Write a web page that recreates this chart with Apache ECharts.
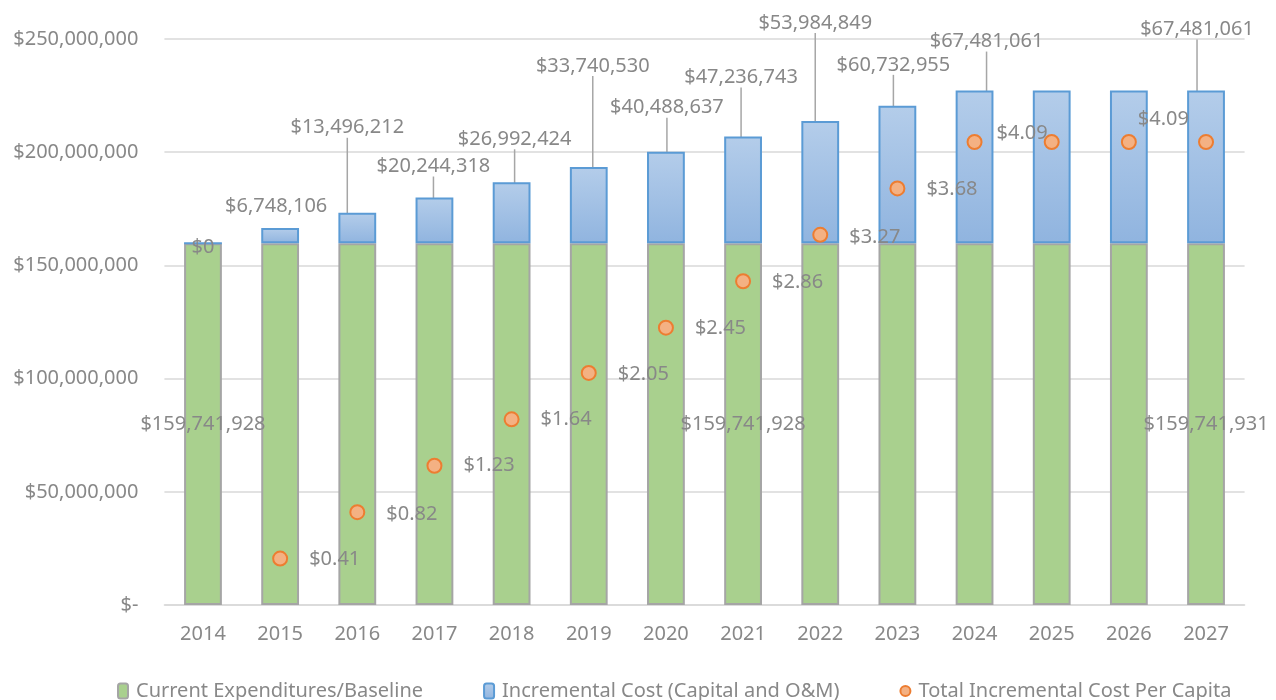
<!DOCTYPE html>
<html>
<head>
<meta charset="utf-8">
<title>Expenditures and Incremental Cost</title>
<script src="https://cdn.jsdelivr.net/npm/echarts@6/dist/echarts.min.js"></script>
<style>
  html, body { margin: 0; padding: 0; background: #ffffff; }
  #chart { width: 1276px; height: 700px; }
</style>
</head>
<body>
<div id="chart"></div>
<script>
// Chart data
const years = ['2014', '2015', '2016', '2017', '2018', '2019', '2020', '2021', '2022', '2023', '2024', '2025', '2026', '2027'];
const baseline = [159741928, 159741928, 159741928, 159741928, 159741928, 159741928, 159741928,
                  159741928, 159741928, 159741928, 159741928, 159741928, 159741928, 159741931];
const incremental = [0, 6748106, 13496212, 20244318, 26992424, 33740530, 40488637,
                     47236743, 53984849, 60732955, 67481061, 67481061, 67481061, 67481061];
const perCapita = [null, 0.41, 0.82, 1.23, 1.64, 2.05, 2.45, 2.86, 3.27, 3.68, 4.09, 4.09, 4.09, 4.09];

// Which data labels are printed
const baselineLabelShown    = [true, false, false, false, false, false, false, true, false, false, false, false, false, true];
const incrementalLabelShown = [true, true, true, true, true, true, true, true, true, true, true, false, false, true];
const perCapitaLabelShown   = [false, true, true, true, true, true, true, true, true, true, true, false, true, false];

const seriesNames = ['Current Expenditures/Baseline', 'Incremental Cost (Capital and O&M)', 'Total Incremental Cost Per Capita'];

// Label nudges (pixels) used to keep callouts apart
const incLabelShift = [[0, 20], [-4, -7], [-10, -70], [-1, -16], [3, -28], [4, -86], [1, -29],
                       [-2, -44], [-5, -83], [-4, -26], [12, -34], [0, 0], [0, 0], [-9, -46]];
const pcLabelShift = [[0, 0], [0, 1], [0, 2], [0, 0], [0, 0], [0, 1], [0, 1],
                      [0, 1], [0, 2], [0, 1], [-7, -9], [0, 0], [-20, -23], [0, 0]];

const textGray = '#888888';
const fontFamily = '"Noto Sans", "Open Sans", sans-serif';

function money(v) {
  return '$' + Math.round(v).toLocaleString('en-US');
}

const chart = echarts.init(document.getElementById('chart'), null, { renderer: 'canvas' });

const blueFill = new echarts.graphic.LinearGradient(0, 0, 0, 1, [
  { offset: 0, color: '#b4cdea' },
  { offset: 1, color: '#90b4df' }
]);

chart.setOption({
  animation: false,
  backgroundColor: '#ffffff',
  textStyle: { fontFamily: fontFamily },
  grid: { left: 164.4, right: 31.4, top: 39, bottom: 95, containLabel: false },
  legend: {
    left: 112,
    top: 676,
    itemWidth: 10,
    itemHeight: 15,
    itemGap: 60,
    textStyle: { color: textGray, fontSize: 20, fontFamily: fontFamily, padding: [0, 0, 0, 3] },
    data: seriesNames
  },
  xAxis: {
    type: 'category',
    data: years,
    axisLine: { lineStyle: { color: '#d9d9d9', width: 1.5 } },
    axisTick: { show: false },
    axisLabel: { color: textGray, fontSize: 20, margin: 19 }
  },
  yAxis: [
    {
      type: 'value',
      min: 0,
      max: 250000000,
      interval: 50000000,
      axisLine: { show: false },
      axisTick: { show: false },
      splitLine: { lineStyle: { color: '#d9d9d9', width: 1.5 } },
      axisLabel: {
        color: textGray,
        fontSize: 20,
        margin: 26,
        formatter: function (v) { return v === 0 ? '$-' : money(v); }
      }
    },
    {
      type: 'value',
      min: 0,
      max: 5,
      interval: 1,
      show: false
    }
  ],
  series: [
    {
      name: seriesNames[0],
      type: 'bar',
      stack: 'total',
      barWidth: '49%',
      itemStyle: { color: '#a9d08e', borderColor: '#a5a5a5', borderWidth: 2 },
      label: {
        position: 'inside',
        color: textGray,
        fontSize: 20,
        formatter: function (p) { return money(p.value); }
      },
      data: baseline.map(function (v, i) {
        return { value: v, label: { show: baselineLabelShown[i] } };
      })
    },
    {
      name: seriesNames[1],
      type: 'bar',
      stack: 'total',
      barWidth: '49%',
      itemStyle: { color: blueFill, borderColor: '#5b9bd5', borderWidth: 2 },
      label: {
        position: 'top',
        distance: 5,
        color: textGray,
        fontSize: 20,
        formatter: function (p) { return money(p.value); }
      },
      labelLine: { show: true, lineStyle: { color: '#a6a6a6', width: 1.5 } },
      labelLayout: function (p) {
        const s = incLabelShift[p.dataIndex];
        return { dx: s[0], dy: s[1] };
      },
      data: incremental.map(function (v, i) {
        const item = { value: v, label: { show: incrementalLabelShown[i] } };
        if (i <= 1) item.labelLine = { show: false };
        return item;
      })
    },
    {
      name: seriesNames[2],
      type: 'scatter',
      yAxisIndex: 1,
      symbol: 'circle',
      symbolSize: 14,
      itemStyle: { color: '#f4b183', borderColor: '#ed7d31', borderWidth: 2, opacity: 1 },
      label: {
        position: 'right',
        distance: 21,
        color: textGray,
        fontSize: 20,
        formatter: function (p) { return '$' + Number(p.value).toFixed(2); }
      },
      labelLayout: function (p) {
        const s = pcLabelShift[p.dataIndex];
        return { dx: s[0], dy: s[1] };
      },
      data: perCapita.map(function (v, i) {
        return { value: v === null ? '-' : v, label: { show: perCapitaLabelShown[i] } };
      })
    }
  ]
});
</script>
</body>
</html>
